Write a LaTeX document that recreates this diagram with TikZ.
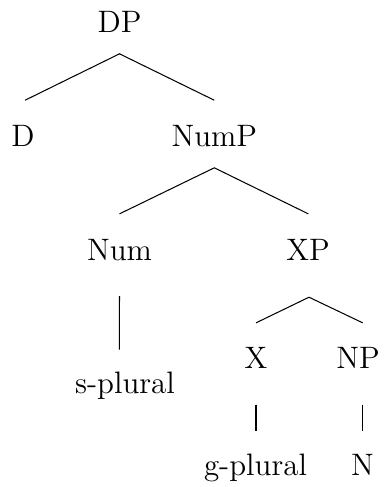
\documentclass[tikz,border=0pt]{standalone}
\usepackage{fontspec}
\usetikzlibrary{calc}
\begin{document}
\begin{tikzpicture}[x=0.387pt,y=-0.387pt,
  lbl/.style={anchor=base,inner sep=0pt,text height=8.1pt,text depth=0pt,font=\fontsize{12}{14}\selectfont},
  branch/.style={line width=0.4pt}]
\useasboundingbox (0,0) rectangle (385,487);
\node[lbl] (DP) at (119.5,32.5) {DP};
\node[lbl] (D) at (23,147) {D};
\node[lbl] (NumP) at (214.3,147) {NumP};
\node[lbl] (Num) at (119.5,260) {Num};
\node[lbl] (XP) at (308,260) {XP};
\node[lbl] (splural) at (125,393) {s-plural};
\node[lbl] (X) at (256,368) {X};
\node[lbl] (NP) at (358,368) {NP};
\node[lbl] (gplural) at (255.5,475) {g-plural};
\node[lbl] (N) at (362.5,475) {N};
\draw[branch] ($(D.north)+(2,-25.3)$) -- ($(DP.south)+(0,20.8)$) -- ($(NumP.north)+(0,-25.3)$);
\draw[branch] ($(Num.north)+(0,-24.7)$) -- ($(NumP.south)+(0,20.3)$) -- ($(XP.north)+(0.3,-24.7)$);
\draw[branch] ($(Num.south)+(0,35.7)$) -- ($(splural.north)+(-5.7,-22)$);
\draw[branch] ($(X.north)+(0,-23.7)$) -- ($(XP.south)+(1,36.7)$) -- ($(NP.north)+(4.7,-23.7)$);
\draw[branch] ($(X.south)+(0,36)$) -- ($(gplural.north)+(0.5,-22.3)$);
\draw[branch] ($(NP.south)+(4.7,36)$) -- ($(N.north)+(0.2,-22.3)$);
\end{tikzpicture}
\end{document}
